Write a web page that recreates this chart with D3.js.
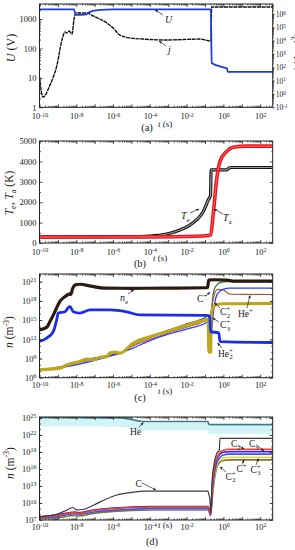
<!DOCTYPE html>
<html><head><meta charset="utf-8">
<script src="https://cdn.jsdelivr.net/npm/d3@7"></script>
<style>
body{margin:0;background:#fff}
svg{display:block}
text{font-family:"Liberation Serif","DejaVu Serif",serif;fill:#1a1a1a}
</style>
</head><body>
<svg id="chart" width="295" height="550"></svg>
<script>
// ---------- DATA (time as log10 t [s]; log-axis values as log10) ----------
// Panel (a)
const tJ   = [-10,-9.81,-9.43,-9.05,-8.78,-8.61,-8.51,-8.40,-8.23,-8.13,-8.02,-7.80,-7.42,-7.09,-6.33,-6.0,-5.63,-5.08,-4.38,-3.07,-1.28,-0.68,-0.64,2.68];
const jLog = [1.27,-0.23,0.67,2.17,4.05,4.65,4.57,4.72,4.50,5.55,6.07,6.07,6.07,5.85,5.32,4.95,4.42,4.2,4.12,4.05,4.12,3.97,6.53,6.53];
const tU   = [-10,-8.13,-8.02,-7.53,-7.26,-6.71,-6.0,-0.68,-0.64,-0.03,0.19,0.24,2.68];
const uVolt= [2130,2130,1380,1410,1740,2040,2130,2130,32,23,21,16,16];
// Panel (b)
const tTa  = [-10,-4,-1.5,-0.75,-0.70,-0.55,-0.37,-0.19,0.17,0.53,1.26,2.68];
const tempA= [290,300,330,380,400,1450,3090,3990,4480,4690,4750,4750];
const tTe  = [-10,-5,-4.0,-3.09,-2.36,-1.82,-1.46,-1.10,-0.83,-0.70,-0.67,0.17,0.30,0.45,2.68];
const tempE= [300,310,340,440,640,880,1130,1530,2100,2350,3580,3580,3680,3700,3700];
// Panel (c)
const tNe  = [-10,-9.6,-9.43,-9.3,-9.16,-8.9,-8.61,-8.45,-8.38,-8.3,-8.2,-8.05,-7.8,-7.2,-6.5,-5,-3,-1,-0.86,-0.8,-0.5,0.2,0.5,2.68];
const neLog= [13.47,13.9,14.77,15.5,16.33,17.9,18.67,19.0,19.1,19.0,19.9,20.5,20.6,20.3,20.0,19.97,20.0,20.05,20.1,21.25,21.3,21.25,21.1,21.1];
const tHe2 = [-10,-9.61,-9.25,-9.07,-8.98,-8.61,-8.43,-8.34,-8.16,-7.80,-7.25,-6.17,-5.26,-4.54,-0.92,-0.74,-0.70,-0.25,-0.19,2.68];
const he2Log=[11.65,12.2,13.2,15.0,16.1,16.3,16.95,17.1,16.3,16.1,16.6,16.6,16.3,15.8,15.75,15.6,13.2,13.0,11.65,11.5];
const tC3p = [-10,-8.89,-8.52,-7.80,-7.43,-7.07,-6.71,-6.35,-6.17,-5.9,-5.62,-4.90,-3.99,-3.09,-2.18,-1.28,-0.83,-0.79,-0.70,-0.66,-0.55,-0.4,0,2.68];
const c3pLog=[7.23,7.49,8.0,8.53,8.9,8.8,9.2,9.3,9.85,10.0,9.85,11.4,12.4,13.2,14.0,14.8,15.1,10.0,10.0,16.0,17.0,17.4,17.55,17.6];
const tCp  = [-10,-8.9,-8.0,-7.3,-6.2,-5.5,-5.0,-4.0,-3.0,-2.0,-1.0,-0.83,-0.78,-0.72,-0.6,-0.5,-0.35,-0.2,0.2,2.68];
const cpLog= [7.3,7.5,8.4,8.9,9.5,10.0,11.0,12.3,13.4,14.4,15.4,15.7,15.2,14.0,18.0,19.8,20.5,20.85,21.0,21.0];
const tHep = [-10,-8,-6.5,-5.5,-5,-4,-3,-2,-1,-0.83,-0.76,-0.6,-0.45,-0.3,0.0,0.25,0.4,2.68];
const hepLog=[7.2,8.2,9.3,9.9,10.8,12.0,13.0,13.9,14.9,15.2,14.0,17.5,19.4,19.8,19.7,19.2,19.03,19.0];
const tC2p = [-10,-8,-6.5,-5,-4,-3,-2,-1,-0.83,-0.76,-0.7,-0.55,-0.4,-0.2,0.1,0.3,2.68];
const c2pLog=[7.1,8.0,9.1,10.5,11.8,12.8,13.6,14.5,14.8,12.0,11.8,16.0,18.6,19.5,19.9,20.0,20.0];
// Panel (d)
const tHe  = [-10,-5.6,-5.0,-4.4,-0.85,-0.78,-0.5,2.68];
const heLog= [25.05,25.0,24.7,24.35,24.35,23.85,23.8,23.8];
const tC   = [-10,-9.2,-8.6,-8.2,-8.0,-7.6,-6.7,-5.8,-4.9,-4.36,-0.85,-0.8,-0.74,-0.68,-0.62,-0.5,-0.35,-0.22,-0.19,2.68];
const cLog = [7.6,7.9,8.6,9.2,8.8,8.9,10.2,11.4,11.9,12.1,12.1,11.6,10.8,8.2,13.8,17.0,18.8,19.35,21.4,21.4];
const tSp  = [-10,-9,-8.1,-7.9,-7,-6,-5,-4,-0.85,-0.78,-0.7,-0.6,-0.5,-0.35,-0.2,0,0.3,2.68];
const c2Log  = [7.4,7.8,8.3,8.2,8.7,9.0,9.2,9.3,9.3,9.0,8.0,13.0,16.0,18.0,18.9,19.3,19.45,19.45];
const c3Log  = [7.5,7.9,8.4,8.3,8.8,9.1,9.3,9.35,9.35,9.0,8.1,12.8,15.8,17.8,18.6,18.95,19.05,19.05];
const c2pDLog= [7.3,7.6,8.1,8.0,8.4,8.7,8.9,9.0,9.0,8.6,7.8,12.0,15.0,17.2,18.0,18.45,18.6,18.6];
const c3pDLog= [7.3,7.6,8.3,8.0,8.5,8.75,8.9,8.94,8.94,8.6,7.9,11.5,14.5,16.8,17.6,17.95,18.06,18.06];
const cpDLog = [7.2,7.4,7.8,7.7,8.2,8.5,8.7,8.76,8.76,8.5,7.8,11.0,14.0,16.3,17.2,17.5,17.6,17.6];
// tick exponents
const xTickExp = d3.range(-10, 3);

// ---------- SETUP ----------
const svg = d3.select('#chart');
const X0 = 39.5, X1 = 272.7;
const x = d3.scaleLog().domain([1e-10, 10 ** 2.68]).range([X0, X1]);
const zip = (a, b, fa, fb) => a.map((v, i) => [fa(v), fb(b[i])]);
const p10 = v => 10 ** v, id = v => v;
const defs = svg.append('defs');
defs.append('marker').attr('id', 'arr').attr('viewBox', '0 0 6 6').attr('refX', 5.5).attr('refY', 3)
  .attr('markerWidth', 4.5).attr('markerHeight', 4.5).attr('orient', 'auto')
  .append('path').attr('d', 'M0,0.6 L6,3 L0,5.4 Z').attr('fill', '#222');

function supLabel(sel, fs) {
  sel.each(function (d) {
    const e = Math.round(Math.log10(d));
    const t = d3.select(this); t.text(null).attr('font-size', fs + 'px');
    t.append('tspan').text('10');
    t.append('tspan').attr('dy', '-0.45em').attr('font-size', (fs * 0.7) + 'px').text(e < 0 ? '-' + (-e) : String(e));
  });
}
function minorLog(lo, hi) {
  const out = [];
  for (let k = Math.floor(Math.log10(lo)); k <= Math.ceil(Math.log10(hi)); k++)
    for (let m = 2; m <= 9; m++) { const v = m * 10 ** k; if (v > lo && v < hi) out.push(v); }
  return out;
}
function styleAxis(g) {
  g.select('.domain').remove();
  g.selectAll('line').attr('stroke', '#222').attr('stroke-width', 0.8);
  g.attr('font-family', null).attr('font-size', null);
  g.selectAll('text').attr('font-size', '8.5px').attr('fill', '#1a1a1a');
}

function panel(top, bottom, y, cfg) {
  const cid = 'clip' + Math.round(top);
  defs.append('clipPath').attr('id', cid).append('rect')
    .attr('x', X0).attr('y', top).attr('width', X1 - X0).attr('height', bottom - top);
  const plot = svg.append('g').attr('clip-path', `url(#${cid})`);
  const axes = svg.append('g');
  const xMaj = xTickExp.map(p10), xMin = minorLog(1e-10, x.domain()[1]);
  const gb = axes.append('g').attr('transform', `translate(0,${bottom})`)
    .call(d3.axisBottom(x).tickValues(xMaj.filter((v, i) => xTickExp[i] % 2 === 0)).tickSizeInner(-3).tickSizeOuter(0).tickPadding(cfg.xpad));
  styleAxis(gb); supLabel(gb.selectAll('text'), 8.5);
  axes.append('g').attr('transform', `translate(0,${bottom})`)
    .call(d3.axisBottom(x).tickValues(xMaj.filter((v, i) => xTickExp[i] % 2 !== 0)).tickSizeInner(-3).tickSizeOuter(0).tickFormat('')).call(styleAxis);
  axes.append('g').attr('transform', `translate(0,${bottom})`)
    .call(d3.axisBottom(x).tickValues(xMin).tickSizeInner(-1.5).tickSizeOuter(0).tickFormat('')).call(styleAxis);
  axes.append('g').attr('transform', `translate(0,${top})`)
    .call(d3.axisTop(x).tickValues(xMaj).tickSizeInner(-3).tickSizeOuter(0).tickFormat('')).call(styleAxis);
  axes.append('g').attr('transform', `translate(0,${top})`)
    .call(d3.axisTop(x).tickValues(xMin).tickSizeInner(-1.5).tickSizeOuter(0).tickFormat('')).call(styleAxis);
  const gl = axes.append('g').attr('transform', `translate(${X0},0)`)
    .call(d3.axisLeft(y).tickValues(cfg.yMaj).tickSizeInner(-3).tickSizeOuter(0).tickPadding(3).tickFormat(cfg.yFmt || (d => d)));
  styleAxis(gl); if (cfg.ySup) supLabel(gl.selectAll('text'), 8.5);
  axes.append('g').attr('transform', `translate(${X0},0)`)
    .call(d3.axisLeft(y).tickValues(cfg.yMin).tickSizeInner(-1.5).tickSizeOuter(0).tickFormat('')).call(styleAxis);
  if (!cfg.noRight) {
    axes.append('g').attr('transform', `translate(${X1},0)`)
      .call(d3.axisRight(y).tickValues(cfg.yMaj).tickSizeInner(-3).tickSizeOuter(0).tickFormat('')).call(styleAxis);
    axes.append('g').attr('transform', `translate(${X1},0)`)
      .call(d3.axisRight(y).tickValues(cfg.yMin).tickSizeInner(-1.5).tickSizeOuter(0).tickFormat('')).call(styleAxis);
  }
  axes.append('rect').attr('x', X0).attr('y', top).attr('width', X1 - X0).attr('height', bottom - top)
    .attr('fill', 'none').attr('stroke', '#222').attr('stroke-width', 1);
  return { plot, axes };
}

function line(g, data, xs, ys, color, w, extra) {
  const gen = d3.line().x(d => xs(d[0])).y(d => ys(d[1])).curve(d3.curveMonotoneX);
  const p = g.append('path').datum(data).attr('d', gen).attr('fill', 'none')
    .attr('stroke', color).attr('stroke-width', w).attr('stroke-linejoin', 'round');
  if (extra) extra(p);
  return p;
}

function rich(x0, y0, parts, fs) {
  const t = svg.append('text').attr('x', x0).attr('y', y0).attr('font-size', fs + 'px');
  let cur = 0;
  parts.forEach(([s, k]) => {
    const want = (k === 'sup') ? -fs * 0.38 : (k === 'sub' || k === 'subback') ? fs * 0.28 : 0;
    const ts = t.append('tspan').text(s).attr('dy', (want - cur).toFixed(2));
    cur = want;
    if (k === 'i') ts.attr('font-style', 'italic');
    if (k === 'sup' || k === 'sub' || k === 'subback') ts.attr('font-size', (fs * 0.7) + 'px');
    if (k === 'subback') ts.attr('dx', -(fs * 0.36).toFixed(2));
  });
  return t;
}
function arrow(x1, y1, x2, y2) {
  svg.append('line').attr('x1', x1).attr('y1', y1).attr('x2', x2).attr('y2', y2)
    .attr('stroke', '#222').attr('stroke-width', 0.7).attr('marker-end', 'url(#arr)');
}
function yTitle(cx, cy, parts, fs) {
  return rich(0, 0, parts, fs).attr('text-anchor', 'middle')
    .attr('transform', `translate(${cx},${cy}) rotate(-90)`);
}
function caption(cx, cy, txt, tsx, tsy) {
  svg.append('text').attr('x', cx).attr('y', cy).attr('text-anchor', 'middle').attr('font-size', '10.5px').text(txt);
  rich(tsx, tsy, [['t', 'i'], [' (s)', 'n']], 9);
}

// ---------- PANEL (a) ----------
{
  const top = 4, bottom = 107.3;
  const yL = d3.scaleLog().domain([1, 10 ** 3.51]).range([bottom, top]);
  const yR = d3.scaleLog().domain([0.1, 10 ** 6.75]).range([bottom, top]);
  const { plot, axes } = panel(top, bottom, yL, {
    xpad: 6, yMaj: [1, 10, 100, 1000], yMin: minorLog(1, 10 ** 3.51), yFmt: d3.format('d'), noRight: true
  });
  const rMaj = d3.range(-1, 7).map(p10);
  const gr = axes.append('g').attr('transform', `translate(${X1},0)`)
    .call(d3.axisRight(yR).tickValues(rMaj).tickSizeInner(2).tickSizeOuter(0).tickPadding(1));
  styleAxis(gr); supLabel(gr.selectAll('text'), 7.5);
  axes.append('g').attr('transform', `translate(${X1},0)`)
    .call(d3.axisRight(yR).tickValues(minorLog(0.1, 10 ** 6.75)).tickSizeInner(1.2).tickSizeOuter(0).tickFormat('')).call(styleAxis);
  line(plot, zip(tJ, jLog, p10, p10), x, yR, '#111', 1.4, p => p.attr('stroke-dasharray', '4,0.7'));
  line(plot, zip(tU, uVolt, p10, id), x, yL, '#1f3dd6', 1.8);
  rich(165, 23, [['U', 'i']], 10);
  arrow(163, 15, 155, 10);
  rich(168, 53, [['j', 'i']], 10);
  arrow(166, 46, 159, 41);
  yTitle(15, 48, [['U', 'i'], [' (V)', 'n']], 12);
  rich(0, 0, [['j', 'i'], [' (A m', 'n'], ['-2', 'sup'], [')', 'n']], 11)
    .attr('text-anchor', 'middle').attr('transform', 'translate(301,52) rotate(-90)');
  caption(147, 131, '(a)', 158, 126.5);
}

// ---------- PANEL (b) ----------
{
  const top = 141, bottom = 243;
  const y = d3.scaleLinear().domain([0, 5000]).range([bottom, top]);
  const { plot } = panel(top, bottom, y, {
    xpad: 6, yMaj: d3.range(0, 5001, 1000), yMin: d3.range(500, 5000, 1000), yFmt: d3.format('d')
  });
  line(plot, zip(tTe, tempE, p10, id), x, y, '#111', 3.2);
  line(plot, zip(tTe, tempE, p10, id), x, y, '#9a9a9a', 1.2);
  line(plot, zip(tTa, tempA, p10, id), x, y, '#e8141c', 3.6);
  line(plot, zip(tTa, tempA, p10, id), x, y, '#ff5a5a', 1.1);
  rich(181, 219, [['T', 'i'], ['e', 'sub']], 10);
  arrow(190, 213, 199, 209);
  rich(223, 221, [['T', 'i'], ['a', 'sub']], 10);
  arrow(223, 214, 214, 209);
  yTitle(12.5, 193, [['T', 'i'], ['e', 'sub'], [', ', 'n'], ['T', 'i'], ['a', 'sub'], [' (K)', 'n']], 11.5);
  caption(140, 267, '(b)', 153, 260.5);
}

// ---------- PANEL (c) ----------
{
  const top = 274, bottom = 377.7;
  const y = d3.scaleLog().domain([1e6, 10 ** 22.2]).range([bottom, top]);
  const { plot } = panel(top, bottom, y, {
    xpad: 4.5, yMaj: [1e6, 1e9, 1e12, 1e15, 1e18, 1e21], yMin: d3.range(7, 23).map(p10), ySup: true,
    yFmt: d => d
  });
  line(plot, zip(tCp, cpLog, p10, p10), x, y, '#2d6b22', 1.2);
  line(plot, zip(tHep, hepLog, p10, p10), x, y, '#b4532c', 1.1);
  line(plot, zip(tC2p, c2pLog, p10, p10), x, y, '#2b3cff', 1.3);
  line(plot, zip(tC3p, c3pLog, p10, p10), x, y, '#bba81f', 3.2);
  line(plot, zip(tHe2, he2Log, p10, p10), x, y, '#1b2ee6', 2.8);
  line(plot, zip(tNe, neLog, p10, p10), x, y, '#2b1a12', 3.2);
  rich(120, 301, [['n', 'i'], ['e', 'sub']], 10);
  arrow(128, 294, 134, 289.5);
  rich(197, 301.5, [['C', 'n'], ['+', 'sup']], 9.5);
  arrow(206, 296, 210, 292);
  rich(220, 315, [['C', 'n'], ['+', 'sup'], ['2', 'subback']], 9.5);
  arrow(220, 308, 214.5, 303);
  rich(220, 328, [['C', 'n'], ['+', 'sup'], ['3', 'subback']], 9.5);
  arrow(219, 322, 212.5, 318);
  rich(238, 316.5, [['He', 'n'], ['+', 'sup']], 9.5);
  arrow(247, 308, 250, 295.5);
  rich(218, 356.5, [['He', 'n'], ['+', 'sup'], ['2', 'subback']], 9.5);
  arrow(222, 348, 217.5, 343);
  yTitle(13, 332, [['n', 'i'], [' (m', 'n'], ['-3', 'sup'], [')', 'n']], 11.5);
  caption(140, 401, '(c)', 158, 394);
}

// ---------- PANEL (d) ----------
{
  const top = 417, bottom = 520;
  const y = d3.scaleLog().domain([1e7, 10 ** 25.15]).range([bottom, top]);
  const { plot } = panel(top, bottom, y, {
    xpad: 3.5, yMaj: [1e7, 1e10, 1e13, 1e16, 1e19, 1e22, 1e25], yMin: d3.range(8, 26).map(p10), ySup: true,
    yFmt: d => d
  });
  const heData = zip(tHe, heLog, p10, p10);
  plot.append('path').datum(heData)
    .attr('d', d3.area().x(d => x(d[0])).y0(d => y(d[1]) + 1).y1(d => y(d[1]) + 9).curve(d3.curveMonotoneX))
    .attr('fill', '#d2f4f8');
  line(plot, heData, x, y, '#3d7c8a', 1.6);
  line(plot, zip(tSp, cpDLog, p10, p10), x, y, '#7f7a22', 1.6);
  line(plot, zip(tSp, c3pDLog, p10, p10), x, y, '#e5d64a', 1.6);
  line(plot, zip(tSp, c2pDLog, p10, p10), x, y, '#3456ff', 1.6);
  line(plot, zip(tSp, c3Log, p10, p10), x, y, '#4a1fd6', 1.6);
  line(plot, zip(tSp, c2Log, p10, p10), x, y, '#e8452f', 1.5);
  line(plot, zip(tC, cLog, p10, p10), x, y, '#3a3a3a', 1.2);
  rich(130, 434.5, [['He', 'n']], 9.5);
  arrow(139, 427, 143.5, 422.5);
  rich(135.5, 487, [['C', 'n']], 9.5);
  arrow(142, 483, 156, 490);
  rich(231, 447, [['C', 'n'], ['2', 'sub']], 9.5);
  arrow(238, 445, 244, 449);
  rich(249, 447, [['C', 'n'], ['3', 'sub']], 9.5);
  arrow(256, 444.5, 264, 451);
  rich(236.5, 471.5, [['C', 'n'], ['+', 'sup']], 9.5);
  arrow(242, 464.5, 244, 460);
  rich(250.5, 472.5, [['C', 'n'], ['+', 'sup'], ['3', 'subback']], 9.5);
  arrow(256, 465, 258.5, 458.5);
  rich(225.5, 479.5, [['C', 'n'], ['+', 'sup'], ['2', 'subback']], 9.5);
  arrow(226, 472, 220, 467);
  yTitle(13.5, 463, [['n', 'i'], [' (m', 'n'], ['-3', 'sup'], [')', 'n']], 11.5);
  caption(152, 545, '(d)', 158, 527.5);
}
</script>
</body></html>
